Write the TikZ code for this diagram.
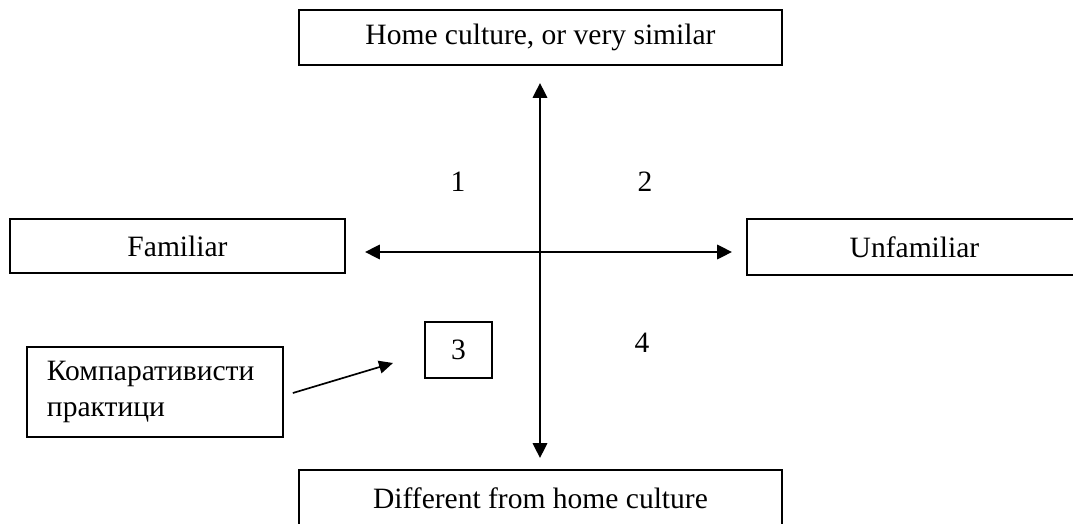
\documentclass[tikz,border=0pt]{standalone}
\usepackage{fontspec}
\setmainfont{Liberation Serif}
\usetikzlibrary{arrows.meta, positioning}

\begin{document}
\begin{tikzpicture}[
  box/.style={draw, line width=1.2pt, minimum height=1.375cm, font=\fontsize{21}{25}\selectfont},
  num/.style={font=\fontsize{21}{25}\selectfont},
  axis/.style={line width=1.3pt, {Triangle[length=0.37cm, width=0.36cm]}-{Triangle[length=0.37cm, width=0.36cm]}},
  pointer/.style={line width=1.2pt, -{Triangle[length=0.35cm, width=0.32cm]}}
]
  \fill[white] (-13.5, -6.775) rectangle (13.325, 6.3);
  \useasboundingbox (-13.5, -6.775) rectangle (13.325, 6.3);

  % Boxes at the ends of the two axes
  \node[box, minimum width=12.075cm] (home) at (0.0125, 5.3625) {Home culture, or very similar};
  \node[box, minimum width=12.075cm, minimum height=1.4cm] (diff) at (0.0125, -6.15) {Different from home culture};
  \node[box, minimum width=8.375cm, minimum height=1.35cm] (fam) at (-9.0625, 0.15) {Familiar};
  \node[box, minimum width=8.375cm, minimum height=1.4cm] (unfam) at (9.3625, 0.125) {Unfamiliar};

  % The two axes
  \coordinate (axtop) at (0, 4.225);
  \coordinate (axbot) at (0, -5.15);
  \coordinate (axleft) at (-4.375, 0);
  \coordinate (axright) at (4.8, 0);
  \draw[axis] (axbot) -- (axtop);
  \draw[axis] (axleft) -- (axright);

  % Quadrant numbers
  \node[num] (q1) at (-2.05, 1.75) {1};
  \node[num] (q2) at (2.625, 1.75) {2};
  \node[box, minimum width=1.675cm, minimum height=1.4cm] (q3) at (-2.0375, -2.45) {3};
  \node[num] (q4) at (2.55, -2.275) {4};

  % Comparativists
  \node[box, align=left, text width=5.4cm, inner xsep=0.5cm, minimum height=2.25cm] (komp) at (-9.625, -3.5)
    {Компаративисти\\практици};
  \coordinate (tip3) at (-3.675, -2.775);
  \draw[pointer] ([xshift=0.225cm, yshift=-0.025cm]komp.east) -- (tip3);
\end{tikzpicture}
\end{document}
